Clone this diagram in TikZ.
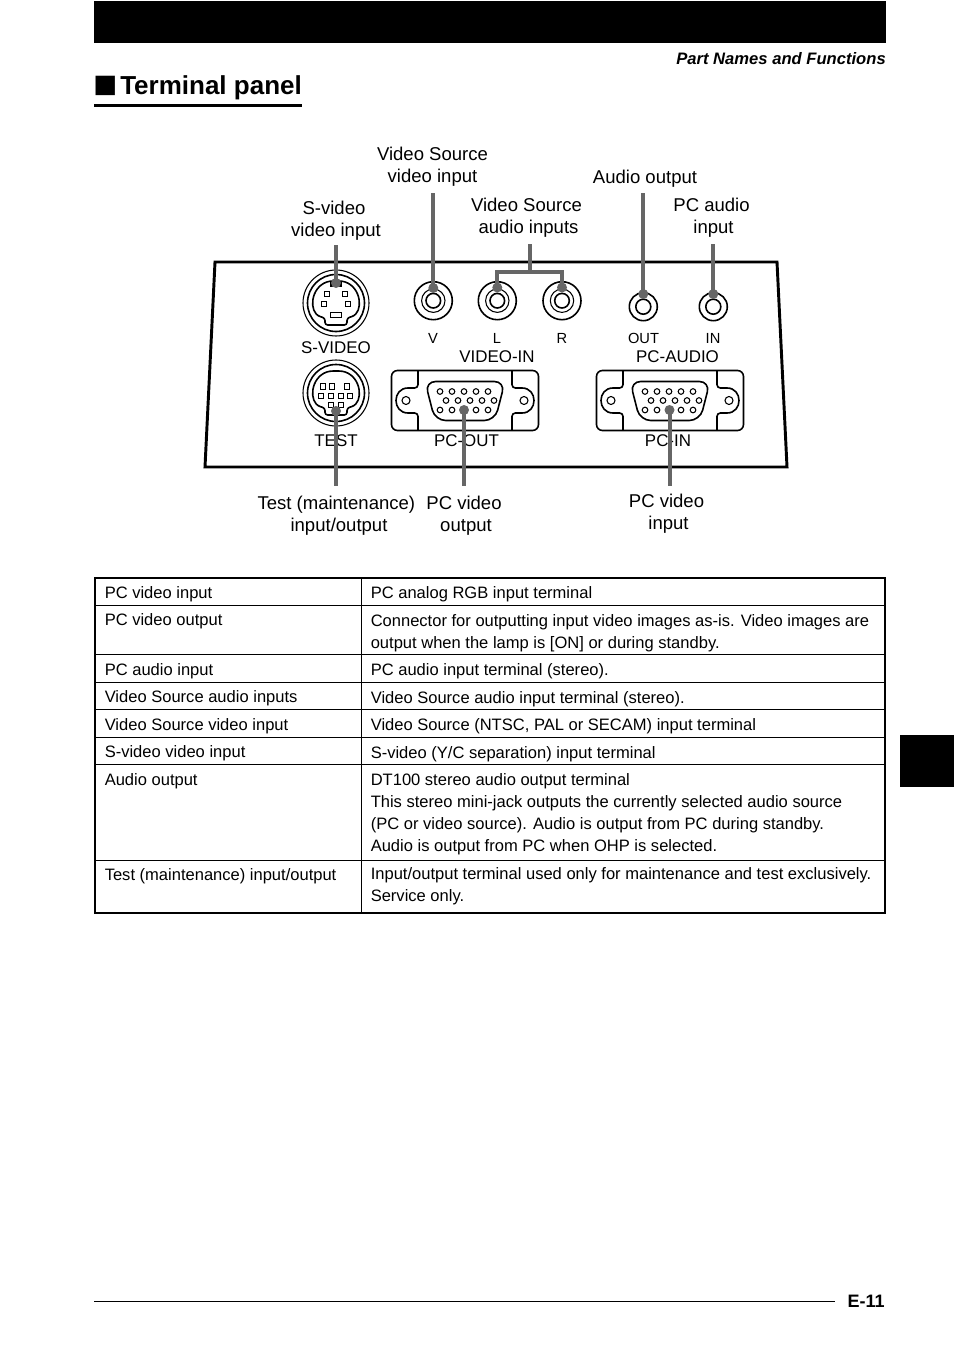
\documentclass[tikz,border=0pt]{standalone}
\usepackage{fontspec}
\setmainfont{Liberation Sans}
\newfontfamily\symfont{DejaVu Sans}
\newcommand\lstrut{\rule{0pt}{10pt}}
\newcommand\cstrut{\rule{0pt}{9pt}}
\newcommand\vgaport[1]{%
  \begin{scope}[shift={(#1)}]
    \draw[portline,rounded corners=4.5pt] (-73.5,-30) rectangle (73.5,30);
    \foreach \s in {-1,1}{
      \draw[portline,rounded corners=2.5pt] (\s*47,-30) -- (\s*47,-12.5) -- (\s*57,-12.5);
      \draw[portline,rounded corners=2.5pt] (\s*47,30) -- (\s*47,12.5) -- (\s*57,12.5);
      \draw[portline] (\s*57,-12.5) .. controls (\s*73,-12.5) and (\s*73,12.5) .. (\s*57,12.5);
      \draw[thinline] (\s*59,0) circle[radius=4];
    }
    \draw[portline,rounded corners=8pt] (-40,-19) -- (40,-19) -- (30,20) -- (-30,20) -- cycle;
    \foreach \x in {-25,-13,-1,11,23}{
      \draw[thinline] (\x,-9) circle[radius=2.8];
      \draw[thinline] (\x,9.5) circle[radius=2.8];
      \draw[thinline] (\x+6,0) circle[radius=2.8];
    }
  \end{scope}}
\newcommand\dinshell{%
  \draw[thinline] (0,0) circle[radius=33];
  \draw[portline] (0,0) circle[radius=28.5];
  \draw[portline,rounded corners=2pt] (-18,13) .. controls (-28,2) and (-22,-22) .. (0,-22) .. controls (22,-22) and (28,2) .. (18,13) -- (11,15) -- (11,22) -- (-11,22) -- (-11,15) -- cycle;}
\newcommand\pinbox[3]{\draw[thinline] (#1-#3/2,#2-2.8) rectangle (#1+#3/2,#2+2.8);}
\newcommand\bigjack[1]{%
  \draw[portline] (#1) circle[radius=19];
  \draw[thinline] (#1) circle[radius=11.7];
  \draw[portline] (#1) circle[radius=7.3];}
\newcommand\smalljack[1]{%
  \draw[portline] (#1) circle[radius=14];
  \draw[portline] (#1) circle[radius=7.5];}
\tikzset{
  x=0.75pt,y=-0.75pt,
  portline/.style={black,line width=1.2pt},
  thinline/.style={black,line width=0.8pt},
  panel/.style={black,line width=2.2pt,miter limit=10},
  leader/.style={draw=leadgrey,line width=3pt},
  leaddot/.style={circle,fill=leadgrey,inner sep=0pt,minimum size=7.5pt},
  callout/.style={anchor=north,align=center,inner sep=0pt,font=\fontsize{13.9}{16.5}\selectfont},
  panellabel/.style={anchor=base,inner sep=0pt,font=\fontsize{12.7}{14}\selectfont},
  smalllabel/.style={anchor=base,inner sep=0pt,font=\fontsize{11}{13}\selectfont},
  cell/.style={anchor=north west,align=left,inner sep=0pt,font=\fontsize{12.4}{16.5}\selectfont},
  tableouter/.style={black,line width=1.5pt},
  tablerule/.style={black,line width=0.6pt},
}
\definecolor{leadgrey}{HTML}{666666}
\begin{document}
\begin{tikzpicture}
\useasboundingbox (0,0) rectangle (954,1348);
% page furniture
\fill[black] (94,1) rectangle (886,43);
\fill[black] (900,735) rectangle (954,787);
\node[anchor=base east,inner sep=0pt,font=\fontsize{12.45}{15}\selectfont\bfseries\itshape] (running) at (886,64.5) {Part Names and Functions};
\node[anchor=base west,inner sep=0pt,font=\fontsize{19}{22}\symfont] (sq) at (93,92.5) {■};
\node[anchor=base west,inner sep=0pt,font=\fontsize{19.5}{24}\selectfont\bfseries] (title) at (120,94.5) {Terminal panel};
\fill[black] (94,104) rectangle (302,107.5);
\draw[black,line width=0.6pt] (94,1301) -- (835,1301);
\node[anchor=base east,inner sep=0pt,font=\fontsize{13.5}{16}\selectfont\bfseries] (pageno) at (885,1307) {E-11};

% panel
\draw[panel] (215,262) -- (777,262) -- (787,467) -- (205,467) -- cycle;

% S-video port
\begin{scope}[shift={(336,303)}]
  \dinshell
  \draw[thinline] (-5,-20) rectangle (5,-17);
  \pinbox{-9}{-9}{5.5}\pinbox{9}{-9}{5.5}\pinbox{-12}{1}{5.5}\pinbox{12}{1}{5.5}\pinbox{0}{12}{11}
\end{scope}
% Test port
\begin{scope}[shift={(336,393)}]
  \dinshell
  \pinbox{-12.7}{-6.7}{5}\pinbox{-4}{-6.7}{5}\pinbox{11.3}{-6.7}{5}
  \pinbox{-14.7}{3}{5}\pinbox{-5}{3}{5}\pinbox{4.7}{3}{5}\pinbox{14.3}{3}{5}
  \pinbox{-5}{12}{5}\pinbox{4.7}{12}{5}
\end{scope}
% jacks
\bigjack{433.3,300.7}
\bigjack{497.3,300.7}
\bigjack{562,300.7}
\smalljack{643.3,306.7}
\smalljack{713.3,306.7}
% D-sub ports
\vgaport{465,400.5}
\vgaport{670,400.5}

% panel labels
\node[panellabel] (lsv) at (336,353) {S-VIDEO};
\node[smalllabel] (lv) at (433,343) {V};
\node[smalllabel] (ll) at (497,343) {L};
\node[smalllabel] (lr) at (562,343) {R};
\node[smalllabel] (lout) at (643.5,343) {OUT};
\node[smalllabel] (lin) at (713,343) {IN};
\node[panellabel] (lvi) at (497,362) {VIDEO-IN};
\node[panellabel] (lpa) at (677.5,362) {PC-AUDIO};
\node[panellabel] (ltest) at (336,446) {TEST};
\node[panellabel] (lpo) at (466.5,446) {PC-OUT};
\node[panellabel] (lpi) at (668,446) {PC-IN};

% callouts
\node[callout] (csv) at (336,200.7) {\lstrut S-video\hspace*{3pt}\\video input};
\node[callout] (cvi) at (432.5,146.7) {\lstrut Video Source\\video input};
\node[callout] (cai) at (528.5,198) {\lstrut Video Source\hspace*{3pt}\\audio inputs};
\node[callout] (cao) at (645,170) {\lstrut Audio output};
\node[callout] (cpa) at (713.5,198) {\lstrut PC audio\hspace*{3pt}\\input};
\node[callout] (ctest) at (339,495.7) {\lstrut Test (maintenance)\hspace*{4pt}\\input/output};
\node[callout] (cpo) at (466,495.7) {\lstrut PC video\hspace*{3pt}\\output};
\node[callout] (cpi) at (668.5,494) {\lstrut PC video\hspace*{3pt}\\input};

% leader lines
\node[leaddot] (dsv) at (336,283) {};
\node[leaddot] (dv) at (433.3,288) {};
\node[leaddot] (dl) at (497.3,287.5) {};
\node[leaddot] (dr) at (562,287.5) {};
\node[leaddot] (dout) at (643.3,294) {};
\node[leaddot] (din) at (713.3,294) {};
\node[leaddot] (dtest) at (336,411) {};
\node[leaddot] (dpo) at (464,410) {};
\node[leaddot] (dpi) at (669.5,410) {};
\draw[leader,shorten >=3pt] (dsv.center) -- (dsv.center |- csv.south);
\draw[leader,shorten >=4.5pt] (dv.center) -- (dv.center |- cvi.south);
\draw[leader,shorten >=4pt] (dout.center) -- (dout.center |- cao.south);
\draw[leader,shorten >=5pt] (din.center) -- (din.center |- cpa.south);
\coordinate (join) at (529.5,272);
\draw[leader] (dl.center) |- (join) -- (dr.center |- join) -- (dr.center);
\draw[leader,shorten >=5pt] (join) -- (join |- cai.south);
\coordinate (tb) at (0,486);
\draw[leader] (dtest.center) -- (dtest.center |- tb);
\draw[leader] (dpo.center) -- (dpo.center |- tb);
\draw[leader] (dpi.center) -- (dpi.center |- tb);

% table
\foreach \y in {605.5,654.5,682.5,709.5,737.5,764.5,860.5}{\draw[tablerule] (95,\y) -- (885,\y);}
\draw[tablerule] (361,578) -- (361,913);
\draw[tableouter] (95,578) rectangle (885,913);
\node[cell] (a1) at (104.5,586) {\cstrut PC video input};
\node[cell] (b1) at (370.5,586) {\cstrut PC analog RGB input terminal};
\node[cell] (a2) at (104.5,613) {\cstrut PC video output};
\node[cell] (b2) at (370.5,614) {\cstrut Connector for outputting input video images as-is. Video images are\\output when the lamp is [ON] or during standby.};
\node[cell] (a3) at (104.5,663) {\cstrut PC audio input};
\node[cell] (b3) at (370.5,663) {\cstrut PC audio input terminal (stereo).};
\node[cell] (a4) at (104.5,690) {\cstrut Video Source audio inputs};
\node[cell] (b4) at (370.5,691) {\cstrut Video Source audio input terminal (stereo).};
\node[cell] (a5) at (104.5,718) {\cstrut Video Source video input};
\node[cell] (b5) at (370.5,718) {\cstrut Video Source (NTSC, PAL or SECAM) input terminal};
\node[cell] (a6) at (104.5,745) {\cstrut S-video video input};
\node[cell] (b6) at (370.5,746) {\cstrut S-video (Y/C separation) input terminal};
\node[cell] (a7) at (104.5,773) {\cstrut Audio output};
\node[cell] (b7) at (370.5,773) {\cstrut DT100 stereo audio output terminal\\This stereo mini-jack outputs the currently selected audio source\\(PC or video source). Audio is output from PC during standby.\\Audio is output from PC when OHP is selected.};
\node[cell] (a8) at (104.5,868) {\cstrut Test (maintenance) input/output};
\node[cell] (b8) at (370.5,867) {\cstrut Input/output terminal used only for maintenance and test exclusively.\\Service only.};
\end{tikzpicture}
\end{document}
